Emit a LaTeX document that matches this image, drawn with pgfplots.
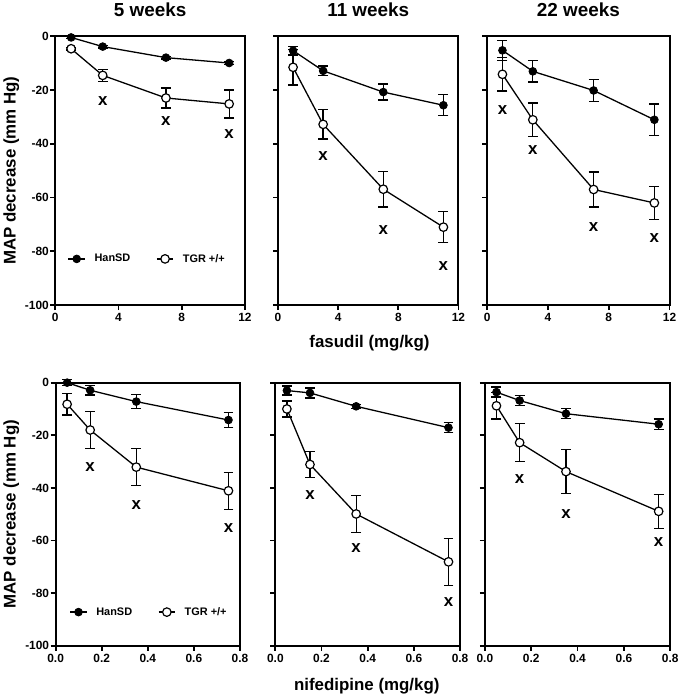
\documentclass[border=0pt]{standalone}
\usepackage{fontspec}
\setmainfont{Liberation Sans}
\usepackage{pgfplots}
\pgfplotsset{compat=1.18}
\pgfplotsset{
  panel/.style={scale only axis, anchor=south west, clip=false,
    axis line style={line width=2pt},
    tick style={black, line width=1.8pt},
    major tick length=5pt, tick align=outside, xtick pos=bottom, ytick pos=left,
    ymin=-100, ymax=0, ytick={-100,-80,-60,-40,-20,0},
    tick label style={font=\fontsize{12}{12}\selectfont\bfseries},
    yticklabel style={xshift=2pt},
    title style={font=\fontsize{19}{19}\selectfont\bfseries, anchor=center},
    label style={font=\fontsize{17}{17}\selectfont\bfseries},
    legend image code/.code={\draw[mark repeat=2,mark phase=2,##1] plot coordinates {(0pt,0pt) (8.3pt,0pt) (16.6pt,0pt)};},
    legend style={draw=none, fill=none, anchor=west, inner sep=0pt, legend columns=2,
      font=\fontsize{11}{11}\selectfont\bfseries,
      nodes={inner xsep=4pt, inner ysep=1pt},
      /tikz/every odd column/.append style={column sep=5pt},
      /tikz/every even column/.append style={column sep=22pt}},
  },
  toprow/.style={xmin=0, xmax=12, xtick={0,4,8,12}, xticklabels={0,4,8,12}, height=271pt},
  botrow/.style={xmin=0, xmax=0.8, xtick={0,0.2,0.4,0.6,0.8}, xticklabels={0.0,0.2,0.4,0.6,0.8}, height=265pt},
  lefty/.style={yticklabels={-100,-80,-60,-40,-20,0}},
  noy/.style={yticklabels={}},
  han/.style={black, line width=1.3pt, mark=*, mark size=3.9pt,
    mark options={fill=black, line width=0.8pt, solid},
    error bars/.cd, y dir=both, y explicit,
    error bar style={line width=1.3pt, black},
    error mark options={rotate=90, mark size=5pt, line width=1.3pt, black}},
  tgr/.style={black, line width=1.3pt, mark=*, mark size=4.3pt,
    mark options={fill=white, line width=1.2pt, solid},
    error bars/.cd, y dir=both, y explicit,
    error bar style={line width=1.3pt, black},
    error mark options={rotate=90, mark size=5pt, line width=1.3pt, black}},
  sig/.style={only marks, mark=text, text mark={x}, text mark as node=true,
    text mark style={font=\fontsize{17}{17}\selectfont\bfseries, inner sep=0pt, anchor=center}},
}
\begin{document}
\begin{tikzpicture}
\path (0pt,0pt) rectangle (685pt,697pt);

% ---------- top row: fasudil ----------
\begin{axis}[panel, toprow, lefty, at={(55.7pt,394.3pt)}, width=191pt,
  title={5 weeks}, title style={at={(axis description cs:0.5,1.074)}},
  ylabel={MAP decrease (mm Hg)},
  ylabel style={at={(axis description cs:-0.232,0.5)}, anchor=center},
  legend style={at={(axis description cs:0.065,0.172)}}]
\addplot[han] coordinates {(1,-0.5) +- (0,0.3) (3,-3.9) +- (0,0.5) (7,-8.0) +- (0,0.5) (11,-10.0) +- (0,0.5)};
\addplot[tgr] coordinates {(1,-4.7) +- (0,0.5) (3,-14.6) +- (0,2.3) (7,-23.0) +- (0,3.7) (11,-25.2) +- (0,5.2)};
\addplot[sig] coordinates {(3,-24.2) (7,-31.6) (11,-36.3)};
\legend{HanSD, TGR +/+}
\end{axis}

\begin{axis}[panel, toprow, noy, at={(280pt,394.3pt)}, width=181.7pt,
  title={11 weeks}, title style={at={(axis description cs:0.5,1.074)}},
  xlabel={fasudil (mg/kg)},
  xlabel style={at={(axis description cs:0.507,-0.141)}, anchor=center}]
\addplot[han] coordinates {(1,-5.4) +- (0,1.6) (3,-12.9) +- (0,1.8) (7,-20.8) +- (0,3.0) (11,-25.7) +- (0,3.9)};
\addplot[tgr] coordinates {(1,-11.6) +- (0,6.6) (3,-32.8) +- (0,5.4) (7,-56.9) +- (0,6.6) (11,-71.0) +- (0,5.8)};
\addplot[sig] coordinates {(3,-44.7) (7,-72.2) (11,-85.3)};
\end{axis}

\begin{axis}[panel, toprow, noy, at={(490.7pt,394.3pt)}, width=183.6pt,
  title={22 weeks}, title style={at={(axis description cs:0.5,1.074)}}]
\addplot[han] coordinates {(1,-5.3) +- (0,3.7) (3,-13.1) +- (0,4.0) (7,-20.2) +- (0,4.0) (11,-31.1) +- (0,5.9)};
\addplot[tgr] coordinates {(1,-14.2) +- (0,6.2) (3,-31.1) +- (0,6.2) (7,-57.0) +- (0,6.5) (11,-62.0) +- (0,6.1)};
\addplot[sig] coordinates {(1,-27.5) (3,-42.2) (7,-71.0) (11,-75.2)};
\end{axis}

% ---------- bottom row: nifedipine ----------
\begin{axis}[panel, botrow, lefty, at={(56pt,51.3pt)}, width=185.7pt,
  ylabel={MAP decrease (mm Hg)},
  ylabel style={at={(axis description cs:-0.240,0.5)}, anchor=center},
  legend style={at={(axis description cs:0.075,0.128)}}]
\addplot[han] coordinates {(0.05,0.0) +- (0,1.2) (0.15,-2.9) +- (0,1.8) (0.35,-7.2) +- (0,2.7) (0.75,-14.2) +- (0,2.9)};
\addplot[tgr] coordinates {(0.05,-8.2) +- (0,4.1) (0.15,-18.0) +- (0,7.0) (0.35,-32.1) +- (0,7.1) (0.75,-41.1) +- (0,7.0)};
\addplot[sig] coordinates {(0.15,-32.2) (0.35,-46.5) (0.75,-55.3)};
\legend{HanSD, TGR +/+}
\end{axis}

\begin{axis}[panel, botrow, noy, at={(277.3pt,51.3pt)}, width=186pt,
  xlabel={nifedipine (mg/kg)},
  xlabel style={at={(axis description cs:0.495,-0.152)}, anchor=center}]
\addplot[han] coordinates {(0.05,-3.0) +- (0,1.7) (0.15,-3.9) +- (0,1.9) (0.35,-9.0) +- (0,0.8) (0.75,-17.1) +- (0,1.9)};
\addplot[tgr] coordinates {(0.05,-10.0) +- (0,3.0) (0.15,-31.1) +- (0,5.0) (0.35,-49.9) +- (0,7.0) (0.75,-68.1) +- (0,9.0)};
\addplot[sig] coordinates {(0.15,-42.9) (0.35,-62.7) (0.75,-83.4)};
\end{axis}

\begin{axis}[panel, botrow, noy, at={(488.3pt,51.3pt)}, width=186.7pt]
\addplot[han] coordinates {(0.05,-3.6) +- (0,1.9) (0.15,-6.8) +- (0,1.9) (0.35,-11.8) +- (0,1.9) (0.75,-15.8) +- (0,2.0)};
\addplot[tgr] coordinates {(0.05,-8.8) +- (0,5.0) (0.15,-22.8) +- (0,7.3) (0.35,-33.8) +- (0,8.4) (0.75,-48.9) +- (0,6.4)};
\addplot[sig] coordinates {(0.15,-36.5) (0.35,-49.9) (0.75,-60.6)};
\end{axis}
\end{tikzpicture}
\end{document}
